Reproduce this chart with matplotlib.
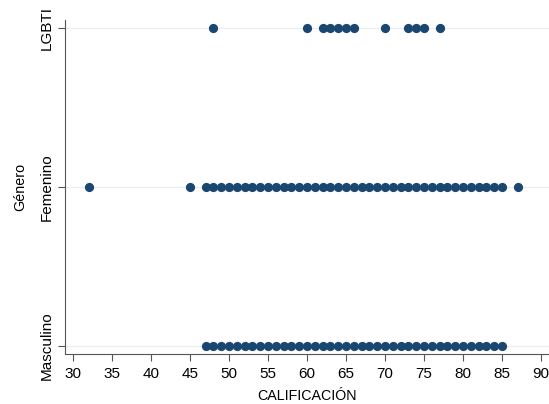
import matplotlib
matplotlib.use("Agg")
import matplotlib.pyplot as plt

plt.rcParams['font.family'] = ['Liberation Sans', 'DejaVu Sans']

categories = ["Masculino", "Femenino", "LGBTI"]
lgbti_scores = [48, 60, 62, 63, 64, 65, 66, 70, 73, 74, 75, 77]
femenino_scores = [32, 45] + list(range(47, 86)) + [87]
masculino_scores = list(range(47, 86))
x_ticks = [30, 35, 40, 45, 50, 55, 60, 65, 70, 75, 80, 85, 90]

series = [masculino_scores, femenino_scores, lgbti_scores]

fig = plt.figure(figsize=(5.49, 4.04), dpi=100)
W, H = 549, 404
ax = fig.add_axes([65 / W, 1 - 354 / H, (W - 65) / W, (354 - 20) / H])

color = "#1a476f"
for i, vals in enumerate(series):
    ax.scatter(vals, [i] * len(vals), s=44, color=color, zorder=3, linewidths=0)

ppu_x = (541 - 73) / 60
ax.set_xlim(30 - 8 / ppu_x, 30 + (W - 73) / ppu_x)
ppu_y = (346 - 28) / 2
ax.set_ylim(-8 / ppu_y, 2 + 8 / ppu_y)

ax.set_xticks(x_ticks)
ax.set_yticks(range(len(categories)))
ax.set_yticklabels(categories, rotation=90, va="center")
ax.tick_params(axis="both", labelsize=11, length=5, width=0.8, color="#555555")
ax.tick_params(axis="x", pad=4)
ax.tick_params(axis="y", pad=3)
ax.grid(axis="y", color="#eaeef2", linewidth=0.9, zorder=0)
ax.set_axisbelow(True)

for side in ["top", "right"]:
    ax.spines[side].set_visible(False)
for side in ["left", "bottom"]:
    ax.spines[side].set_color("#555555")
    ax.spines[side].set_linewidth(0.8)

ax.set_xlabel("CALIFICACIÓN", fontsize=10.3, labelpad=6)
ax.set_ylabel("Género", fontsize=10.3, labelpad=9)

fig.savefig("out.png", dpi=100)
